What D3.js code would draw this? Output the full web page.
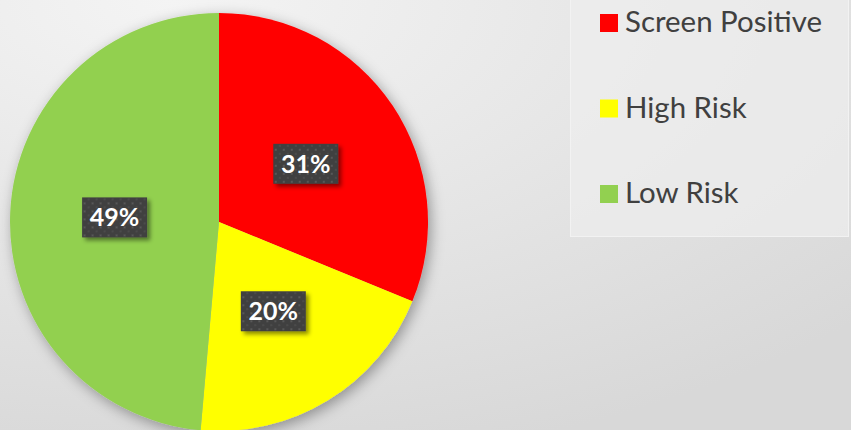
<!DOCTYPE html>
<html>
<head>
<meta charset="utf-8">
<script src="https://cdn.jsdelivr.net/npm/d3@7"></script>
<style>
  html, body { margin: 0; padding: 0; background: #fff; }
  svg { display: block; }
</style>
</head>
<body>
<div id="chart"></div>
<script>
// chart data (shares, labels show them rounded)
const categories = ["Screen Positive", "High Risk", "Low Risk"];
const shares = [31.2, 20.2, 48.6];
const colours = ["#ff0000", "#ffff00", "#92d050"];

const width = 851, height = 430;
const cx = 219, cy = 222, radius = 209;
const labelFont = "Lato, 'Open Sans', sans-serif";

const svg = d3.select("#chart").append("svg")
    .attr("width", width)
    .attr("height", height);

const defs = svg.append("defs");

// background gradient
const bg = defs.append("radialGradient")
    .attr("id", "bgGrad")
    .attr("cx", "20%").attr("cy", "0%").attr("r", "110%");
bg.append("stop").attr("offset", "0%").attr("stop-color", "#f4f4f4");
bg.append("stop").attr("offset", "100%").attr("stop-color", "#d8d8d8");

// soft shadow for the pie
const pieShadow = defs.append("filter").attr("id", "pieShadow")
    .attr("x", "-20%").attr("y", "-20%").attr("width", "140%").attr("height", "140%");
pieShadow.append("feDropShadow")
    .attr("dx", 3).attr("dy", 4).attr("stdDeviation", 7)
    .attr("flood-color", "#000").attr("flood-opacity", 0.35);

// shadow for the label boxes
const boxShadow = defs.append("filter").attr("id", "boxShadow")
    .attr("x", "-30%").attr("y", "-30%").attr("width", "160%").attr("height", "160%");
boxShadow.append("feDropShadow")
    .attr("dx", 3).attr("dy", 3).attr("stdDeviation", 2)
    .attr("flood-color", "#000").attr("flood-opacity", 0.45);

// dotted texture for the label boxes
const pat = defs.append("pattern")
    .attr("id", "dots")
    .attr("width", 8).attr("height", 8)
    .attr("patternUnits", "userSpaceOnUse");
pat.append("rect").attr("width", 8).attr("height", 8).attr("fill", "#404040");
pat.append("rect").attr("x", 1).attr("y", 1).attr("width", 2).attr("height", 2).attr("fill", "#585858");
pat.append("rect").attr("x", 5).attr("y", 5).attr("width", 2).attr("height", 2).attr("fill", "#4c4c4c");

svg.append("rect")
    .attr("width", width).attr("height", height)
    .attr("fill", "url(#bgGrad)");

// pie
const pie = d3.pie().sort(null).value(d => d);
const arcs = pie(shares);
const arc = d3.arc().innerRadius(0).outerRadius(radius);
const labelArc = d3.arc().innerRadius(radius * 0.5).outerRadius(radius * 0.5);

const g = svg.append("g").attr("transform", `translate(${cx},${cy})`);

g.append("g")
    .attr("filter", "url(#pieShadow)")
    .selectAll("path")
    .data(arcs)
    .enter().append("path")
    .attr("d", arc)
    .attr("fill", (d, i) => colours[i]);

// data labels
const boxW = 65, boxH = 40;
const labels = g.selectAll(".lbl")
    .data(arcs)
    .enter().append("g")
    .attr("class", "lbl")
    .attr("transform", d => {
        const [x, y] = labelArc.centroid(d);
        return `translate(${x},${y})`;
    });

labels.append("rect")
    .attr("x", -boxW / 2).attr("y", -boxH / 2)
    .attr("width", boxW).attr("height", boxH)
    .attr("fill", "url(#dots)")
    .attr("filter", "url(#boxShadow)");

labels.append("text")
    .attr("text-anchor", "middle")
    .attr("y", 9)
    .style("font-family", labelFont)
    .style("font-weight", "bold")
    .style("font-size", "25px")
    .attr("fill", "#ffffff")
    .text(d => Math.round(d.data) + "%");

// legend
const legend = svg.append("g");
legend.append("rect")
    .attr("x", 570.5).attr("y", -1)
    .attr("width", 278).attr("height", 237.5)
    .attr("fill", "#eeeeee")
    .attr("fill-opacity", 0.7)
    .attr("stroke", "#f2f2f2")
    .attr("stroke-width", 1);

const legendY = d3.scalePoint()
    .domain(categories)
    .range([23, 194]);

const items = legend.selectAll(".item")
    .data(categories)
    .enter().append("g")
    .attr("class", "item")
    .attr("transform", d => `translate(600,${legendY(d)})`);

items.append("rect")
    .attr("x", 0).attr("y", -9)
    .attr("width", 18).attr("height", 18)
    .attr("fill", (d, i) => colours[i]);

const legendText = items.append("text")
    .attr("x", 25)
    .attr("y", 9)
    .style("font-family", labelFont)
    .style("font-size", "28px")
    .attr("fill", "#404040")
    .text(d => d);

// fit legend font so "Screen Positive" spans about 197px
const w0 = legendText.node().getComputedTextLength();
const fs = 28 * 197 / w0;
legendText.style("font-size", fs + "px");
</script>
</body>
</html>
